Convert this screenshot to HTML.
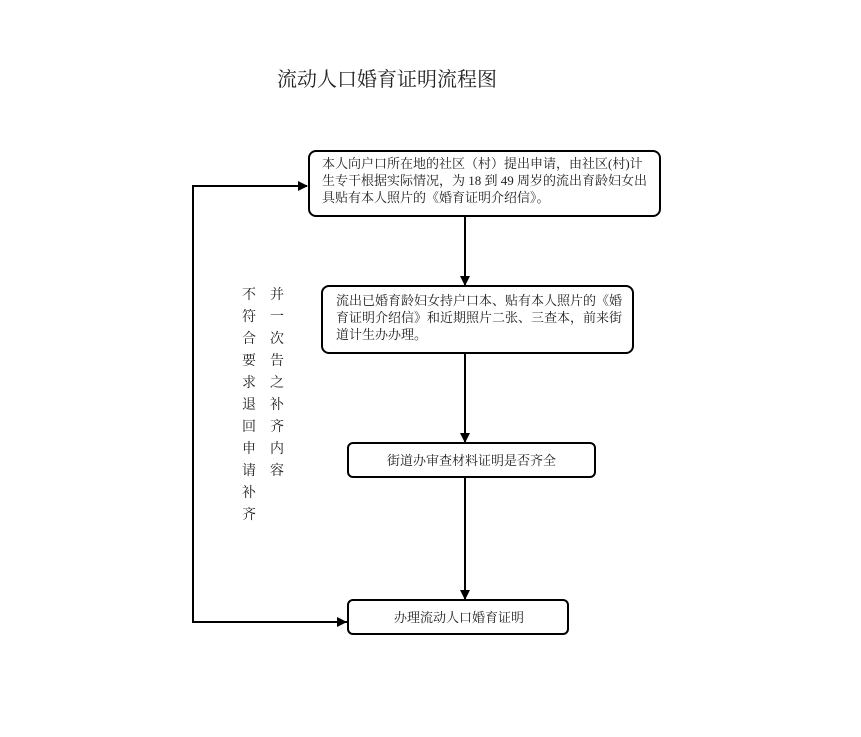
<!DOCTYPE html>
<html><head><meta charset="utf-8"><style>
html,body{margin:0;padding:0;background:#fff;}
svg{display:block;}
text{font-family:"Liberation Serif","Noto Serif CJK SC","Noto Sans CJK SC",serif;fill:#222;}
</style></head><body>
<svg width="861" height="737" viewBox="0 0 861 737" xmlns="http://www.w3.org/2000/svg">
<defs><marker id="a" markerWidth="10" markerHeight="10" refX="9" refY="5" orient="auto" markerUnits="userSpaceOnUse"><path d="M0,0 L10,5 L0,10 z" fill="#000"/></marker></defs>
<text x="277" y="86" font-size="20" textLength="220" lengthAdjust="spacingAndGlyphs">流动人口婚育证明流程图</text>

<rect x="309" y="151" width="351" height="65" rx="7" fill="#fff" stroke="#000" stroke-width="2"/>
<text font-size="13"><tspan x="322" y="168">本人向户口所在地的社区（村）提出申请，由社区(村)计</tspan><tspan x="322" y="185">生专干根据实际情况，为 18 到 49 周岁的流出育龄妇女出</tspan><tspan x="322" y="202">具贴有本人照片的《婚育证明介绍信》。</tspan></text>

<rect x="322" y="286" width="311" height="67" rx="7" fill="#fff" stroke="#000" stroke-width="2"/>
<text font-size="13"><tspan x="336" y="305">流出已婚育龄妇女持户口本、贴有本人照片的《婚</tspan><tspan x="336" y="322">育证明介绍信》和近期照片二张、三查本，前来街</tspan><tspan x="336" y="339">道计生办办理。</tspan></text>

<rect x="348" y="443" width="247" height="34" rx="5" fill="#fff" stroke="#000" stroke-width="2"/>
<text x="387" y="465" font-size="13">街道办审查材料证明是否齐全</text>

<rect x="348" y="600" width="220" height="34" rx="5" fill="#fff" stroke="#000" stroke-width="2"/>
<text x="394" y="622" font-size="13">办理流动人口婚育证明</text>

<g stroke="#000" stroke-width="2" fill="none">
<line x1="465" y1="216" x2="465" y2="285" marker-end="url(#a)"/>
<line x1="465" y1="353" x2="465" y2="442" marker-end="url(#a)"/>
<line x1="465" y1="477" x2="465" y2="599" marker-end="url(#a)"/>
<polyline points="348,622 193,622 193,186 307,186" marker-end="url(#a)"/>
</g>
<line x1="347" y1="622" x2="337" y2="622" stroke="#000" stroke-width="2"/>
<path d="M337,617 L347,622 L337,627 z" fill="#000"/>

<g font-size="14">
<text x="242" y="299">不</text><text x="242" y="321">符</text><text x="242" y="343">合</text><text x="242" y="365">要</text><text x="242" y="387">求</text><text x="242" y="409">退</text><text x="242" y="431">回</text><text x="242" y="453">申</text><text x="242" y="475">请</text><text x="242" y="497">补</text><text x="242" y="519">齐</text>
<text x="270" y="299">并</text><text x="270" y="321">一</text><text x="270" y="343">次</text><text x="270" y="365">告</text><text x="270" y="387">之</text><text x="270" y="409">补</text><text x="270" y="431">齐</text><text x="270" y="453">内</text><text x="270" y="475">容</text>
</g>
</svg>
</body></html>
